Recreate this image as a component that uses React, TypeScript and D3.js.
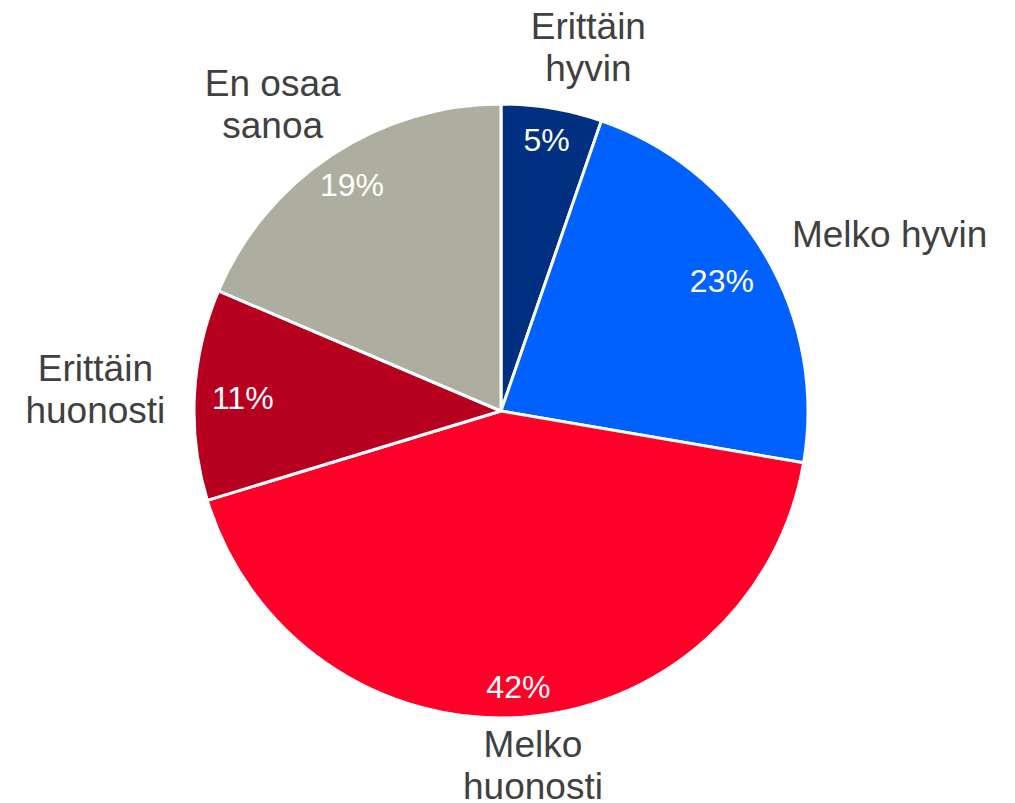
import React from "react";
import * as d3 from "d3";

const categories = ["Erittäin\nhyvin", "Melko hyvin", "Melko\nhuonosti", "Erittäin\nhuonosti", "En osaa\nsanoa"];
// slice shares as measured from the slice angles (%)
const shares = [5.3, 22.4, 42.6, 11.1, 18.6];
// data labels as printed on the chart
const pctLabels = ["5%", "23%", "42%", "11%", "19%"];
const colors = ["#00307F", "#0061FE", "#FF0029", "#B7001F", "#ADAE9F"];
// fine-tuning of label placement (px), like Excel's best-fit
const labelNudge: [number, number][] = [[26, 1], [29, 35], [9, -11], [-7.5, -0.5], [-11.5, 21]];
const pctNudge: [number, number][] = [[0, 0], [0, 0], [0, 0], [0, 0], [-4, -7]];

const W = 1015, H = 803;
const cx = 501, cy = 411, r = 307;
const FONT = "'Liberation Sans', Arial, sans-serif";
const catSize = 37, lineH = 42, pctSize = 32;

function measure(text: string, size: number): number {
  const c = document.createElement("canvas").getContext("2d");
  if (!c) return text.length * size * 0.55;
  c.font = `${size}px ${FONT}`;
  return c.measureText(text).width;
}

export default function App() {
  const pie = d3.pie<number>().sort(null).startAngle(0).endAngle(2 * Math.PI);
  const arcs = pie(shares);
  const arc = d3.arc<d3.PieArcDatum<number>>().innerRadius(0).outerRadius(r);

  return (
    <svg width={W} height={H} style={{ position: "absolute", left: 0, top: 0, background: "#fff" }}>
      <g transform={`translate(${cx},${cy})`}>
        {arcs.map((a, i) => (
          <path key={i} d={arc(a) || ""} fill={colors[i]} stroke="#fff" strokeWidth={3} strokeLinejoin="round" />
        ))}
        {arcs.map((a, i) => {
          const mid = (a.startAngle + a.endAngle) / 2;
          const s = Math.sin(mid), c = Math.cos(mid);
          // percent label (inside end)
          const pct = pctLabels[i];
          const pw = measure(pct, pctSize) / 2;
          const ph = (pctSize * 0.716) / 2;
          const pR = r - 17 - (Math.abs(s) * pw + Math.abs(c) * ph);
          const px = pR * s + pctNudge[i][0], py = -pR * c + pctNudge[i][1];
          // category label (outside)
          const lines = categories[i].split("\n");
          const hw = Math.max(...lines.map((l) => measure(l, catSize))) / 2;
          const hh = ((lines.length - 1) * lineH + catSize * 0.716) / 2;
          const R = r + 20 + (Math.abs(s) * hw + Math.abs(c) * hh);
          const lx = R * s + labelNudge[i][0];
          const ly = -R * c + labelNudge[i][1];
          const firstBase = ly - ((lines.length - 1) * lineH) / 2 + (catSize * 0.716) / 2;
          return (
            <g key={"l" + i}>
              <text x={px} y={py + (pctSize * 0.716) / 2} textAnchor="middle" fontFamily={FONT} fontSize={pctSize} fill="#fff">
                {pct}
              </text>
              <text textAnchor="middle" fontFamily={FONT} fontSize={catSize} fill="#404040">
                {lines.map((l, j) => (
                  <tspan key={j} x={lx} y={firstBase + j * lineH}>
                    {l}
                  </tspan>
                ))}
              </text>
            </g>
          );
        })}
      </g>
    </svg>
  );
}
